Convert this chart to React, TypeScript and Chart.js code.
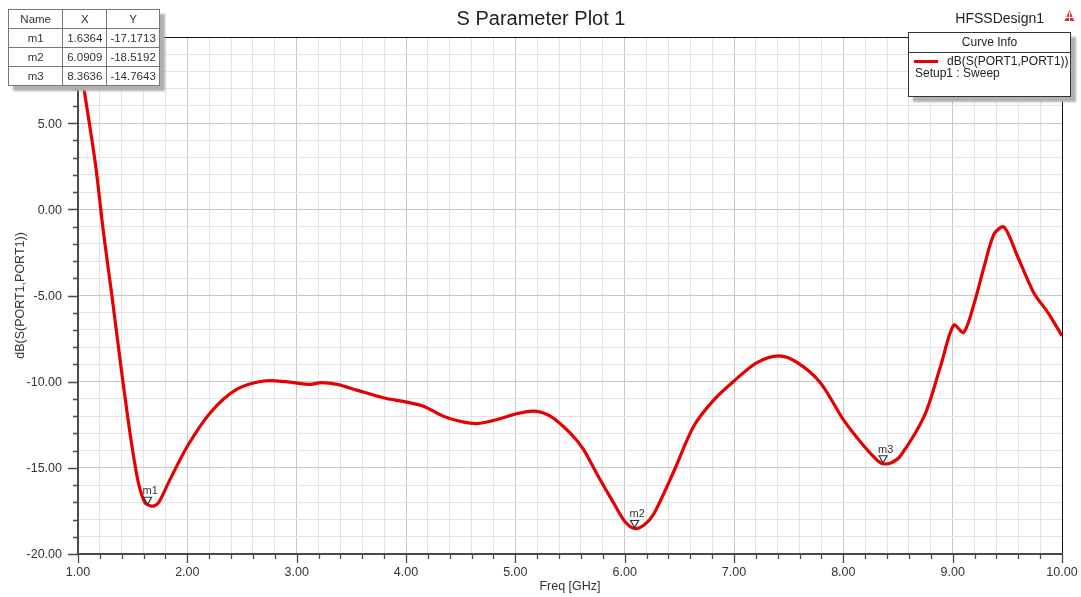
import React, { useEffect, useRef } from "react";
import { Chart, registerables } from "chart.js";

Chart.register(...registerables);

// Return loss sweep, dB(S(PORT1,PORT1)) vs frequency in GHz
const freqGHz = [
  1.0, 1.05, 1.16, 1.23, 1.31, 1.38, 1.43, 1.49, 1.55, 1.61, 1.66, 1.7, 1.74, 1.84, 2.0,
  2.21, 2.45, 2.7, 2.9, 3.1, 3.23, 3.37, 3.55, 3.79, 4.01, 4.16, 4.34, 4.53, 4.65, 4.83,
  5.02, 5.17, 5.32, 5.5, 5.62, 5.75, 5.9, 6.0, 6.09, 6.18, 6.27, 6.45, 6.63, 6.81, 7.0,
  7.21, 7.41, 7.58, 7.79, 8.0, 8.19, 8.3, 8.36, 8.44, 8.52, 8.74, 8.89, 9.01, 9.1, 9.19,
  9.29, 9.38, 9.47, 9.59, 9.74, 9.87, 10.0,
];
const s11dB = [
  9.5, 7.2, 2.6, -1.2, -5.0, -8.5, -10.9, -13.6, -15.8, -17.0, -17.2, -17.2, -17.0, -15.7, -13.75,
  -11.8, -10.45, -9.96, -10.0, -10.16, -10.06, -10.16, -10.49, -10.93, -11.19, -11.42, -12.0, -12.35, -12.43, -12.2,
  -11.85, -11.71, -12.0, -12.97, -13.9, -15.4, -17.05, -18.1, -18.52, -18.3, -17.63, -15.2, -12.6, -11.1, -9.96,
  -8.89, -8.5, -8.89, -10.06, -12.2, -13.75, -14.5, -14.76, -14.7, -14.33, -12.0, -9.09, -6.72, -7.15, -5.6,
  -3.27, -1.42, -1.03, -2.68, -4.82, -5.98, -7.34,
];

const xMajorTicks = [1, 2, 3, 4, 5, 6, 7, 8, 9, 10];
const yMajorTicks = [-20, -15, -10, -5, 0, 5, 10];

const markerNames = ["m1", "m2", "m3"];
const markerFreq = [1.6364, 6.0909, 8.3636];
const markerDb = [-17.1713, -18.5192, -14.7643];

const plotTitle = "S Parameter Plot 1";
const designName = "HFSSDesign1";
const xTitle = "Freq [GHz]";
const yTitle = "dB(S(PORT1,PORT1))";
const legendTitle = "Curve Info";
const seriesLabel = "dB(S(PORT1,PORT1))";
const sweepLabel = "Setup1 : Sweep";

const FONT = '"Liberation Sans", Arial, sans-serif';
const TEXT = "#333";
const CURVE = "#e60000";

const isMultiple = (v: number, step: number) => Math.abs(v / step - Math.round(v / step)) < 1e-6;

const decorPlugin = {
  id: "hfssDecor",
  afterDraw(chart: any) {
    const { ctx, chartArea: a, scales } = chart;
    const xs = scales.x;
    const ys = scales.y;
    ctx.save();

    // plot frame (top / right)
    ctx.strokeStyle = "#111";
    ctx.lineWidth = 1;
    ctx.beginPath();
    ctx.moveTo(a.left, a.top + 0.5);
    ctx.lineTo(a.right + 0.5, a.top + 0.5);
    ctx.lineTo(a.right + 0.5, a.bottom);
    ctx.stroke();

    // axis lines
    ctx.strokeStyle = "#4a4a4a";
    ctx.lineWidth = 2;
    ctx.beginPath();
    ctx.moveTo(a.left, a.top);
    ctx.lineTo(a.left, a.bottom);
    ctx.lineTo(a.right + 1, a.bottom);
    ctx.stroke();

    // tick marks
    ctx.lineWidth = 1.3;
    ctx.beginPath();
    xs.ticks.forEach((t: any) => {
      const px = Math.round(xs.getPixelForValue(t.value)) + 0.5;
      const len = isMultiple(t.value, 1) ? 9 : 5;
      ctx.moveTo(px, a.bottom);
      ctx.lineTo(px, a.bottom + len);
    });
    ys.ticks.forEach((t: any) => {
      const py = Math.round(ys.getPixelForValue(t.value)) + 0.5;
      const len = isMultiple(t.value, 5) ? 10 : 5;
      ctx.moveTo(a.left - len, py);
      ctx.lineTo(a.left, py);
    });
    ctx.stroke();

    // tick labels
    ctx.fillStyle = TEXT;
    ctx.font = `12.5px ${FONT}`;
    ctx.textAlign = "center";
    ctx.textBaseline = "alphabetic";
    xMajorTicks.forEach((v) => {
      ctx.fillText(v.toFixed(2), xs.getPixelForValue(v), 576);
    });
    ctx.textAlign = "right";
    ctx.textBaseline = "middle";
    yMajorTicks.forEach((v) => {
      ctx.fillText(v.toFixed(2), 62, ys.getPixelForValue(v) + 1);
    });

    // axis titles
    ctx.textAlign = "center";
    ctx.textBaseline = "alphabetic";
    ctx.fillText(xTitle, (a.left + a.right) / 2, 590);
    ctx.save();
    ctx.translate(24, (a.top + a.bottom) / 2);
    ctx.rotate(-Math.PI / 2);
    ctx.fillText(yTitle, 0, 0);
    ctx.restore();

    // title and design name
    ctx.fillStyle = "#222";
    ctx.font = `20px ${FONT}`;
    ctx.fillText(plotTitle, 541, 25);
    ctx.font = `14px ${FONT}`;
    ctx.textAlign = "right";
    ctx.fillText(designName, 1044, 23);

    // small design icon
    ctx.fillStyle = "#c8393b";
    ctx.beginPath();
    ctx.moveTo(1069.5, 10);
    ctx.lineTo(1064.5, 21);
    ctx.lineTo(1074.5, 21);
    ctx.closePath();
    ctx.fill();
    ctx.strokeStyle = "#fff";
    ctx.lineWidth = 1;
    ctx.beginPath();
    ctx.moveTo(1066, 17.5);
    ctx.lineTo(1073, 17.5);
    ctx.moveTo(1069.5, 12);
    ctx.lineTo(1069.5, 21);
    ctx.stroke();

    // markers
    ctx.strokeStyle = "#333";
    ctx.lineWidth = 1.2;
    ctx.font = `11px ${FONT}`;
    ctx.textAlign = "left";
    ctx.textBaseline = "alphabetic";
    markerNames.forEach((name, i) => {
      const px = xs.getPixelForValue(markerFreq[i]);
      const py = ys.getPixelForValue(markerDb[i]);
      ctx.beginPath();
      ctx.moveTo(px, py - 1);
      ctx.lineTo(px - 4, py - 8);
      ctx.lineTo(px + 4, py - 8);
      ctx.closePath();
      ctx.fillStyle = "rgba(255,255,255,0.6)";
      ctx.fill();
      ctx.stroke();
      ctx.fillStyle = "#333";
      ctx.fillText(name, px - 5, py - 11);
    });

    ctx.restore();
  },
};

function MarkerTable() {
  const cell: React.CSSProperties = {
    border: "1px solid #777",
    height: 18,
    padding: 0,
    textAlign: "center",
    font: `11.5px ${FONT}`,
    color: TEXT,
  };
  return (
    <table
      style={{
        position: "absolute",
        left: 8,
        top: 9,
        width: 152,
        borderCollapse: "collapse",
        background: "#fff",
        border: "1px solid #333",
        boxShadow: "5px 5px 2px #b0b0b0",
      }}
    >
      <tbody>
        <tr>
          <td style={{ ...cell, width: 54 }}>Name</td>
          <td style={{ ...cell, width: 43 }}>X</td>
          <td style={{ ...cell, width: 52 }}>Y</td>
        </tr>
        {markerNames.map((n, i) => (
          <tr key={n}>
            <td style={cell}>{n}</td>
            <td style={cell}>{markerFreq[i].toFixed(4)}</td>
            <td style={cell}>{markerDb[i].toFixed(4)}</td>
          </tr>
        ))}
      </tbody>
    </table>
  );
}

function CurveLegend() {
  const txt: React.CSSProperties = {
    position: "absolute",
    font: `12px ${FONT}`,
    color: "#222",
    whiteSpace: "nowrap",
  };
  return (
    <div
      style={{
        position: "absolute",
        left: 908,
        top: 32,
        width: 161,
        height: 63,
        background: "#fff",
        border: "1px solid #333",
        boxShadow: "5px 5px 2px #b0b0b0",
      }}
    >
      <div
        style={{
          height: 19,
          borderBottom: "1px solid #333",
          textAlign: "center",
          font: `12px ${FONT}`,
          lineHeight: "19px",
          color: "#222",
        }}
      >
        {legendTitle}
      </div>
      <div style={{ position: "absolute", left: 5, top: 27, width: 24, height: 2.5, background: CURVE }} />
      <div style={{ ...txt, left: 38, top: 21 }}>{seriesLabel}</div>
      <div style={{ ...txt, left: 6, top: 33 }}>{sweepLabel}</div>
    </div>
  );
}

export default function App() {
  const canvasRef = useRef<HTMLCanvasElement | null>(null);

  useEffect(() => {
    if (!canvasRef.current) return;
    const points = freqGHz.map((f, i) => ({ x: f, y: s11dB[i] }));
    const chart = new Chart(canvasRef.current, {
      type: "line",
      data: {
        datasets: [
          {
            label: seriesLabel,
            data: points,
            borderColor: CURVE,
            borderWidth: 3.2,
            pointRadius: 0,
            tension: 0.3,
            fill: false,
          },
        ],
      },
      options: {
        responsive: false,
        animation: false,
        devicePixelRatio: 1,
        layout: { padding: { left: 0, top: 37, right: 19, bottom: 0 } },
        plugins: {
          legend: { display: false },
          title: { display: false },
          tooltip: { enabled: false },
        },
        scales: {
          x: {
            type: "linear",
            min: 1,
            max: 10,
            afterFit: (s: any) => {
              s.height = 43;
            },
            ticks: { display: false, stepSize: 0.2, autoSkip: false },
            border: { display: false },
            grid: {
              drawTicks: false,
              color: (c: any) => (isMultiple(c.tick.value, 1) ? "#c6c6c6" : "#e4e4e4"),
              lineWidth: 1,
            },
          },
          y: {
            type: "linear",
            min: -20,
            max: 10,
            afterFit: (s: any) => {
              s.width = 78;
            },
            ticks: { display: false, stepSize: 1, autoSkip: false },
            border: { display: false },
            grid: {
              drawTicks: false,
              color: (c: any) => (isMultiple(c.tick.value, 5) ? "#c6c6c6" : "#e4e4e4"),
              lineWidth: 1,
            },
          },
        },
      },
      plugins: [decorPlugin],
    });
    return () => chart.destroy();
  }, []);

  return (
    <div style={{ position: "fixed", left: 0, top: 0, width: 1081, height: 597, background: "#fff" }}>
      <canvas ref={canvasRef} width={1081} height={597} />
      <MarkerTable />
      <CurveLegend />
    </div>
  );
}
